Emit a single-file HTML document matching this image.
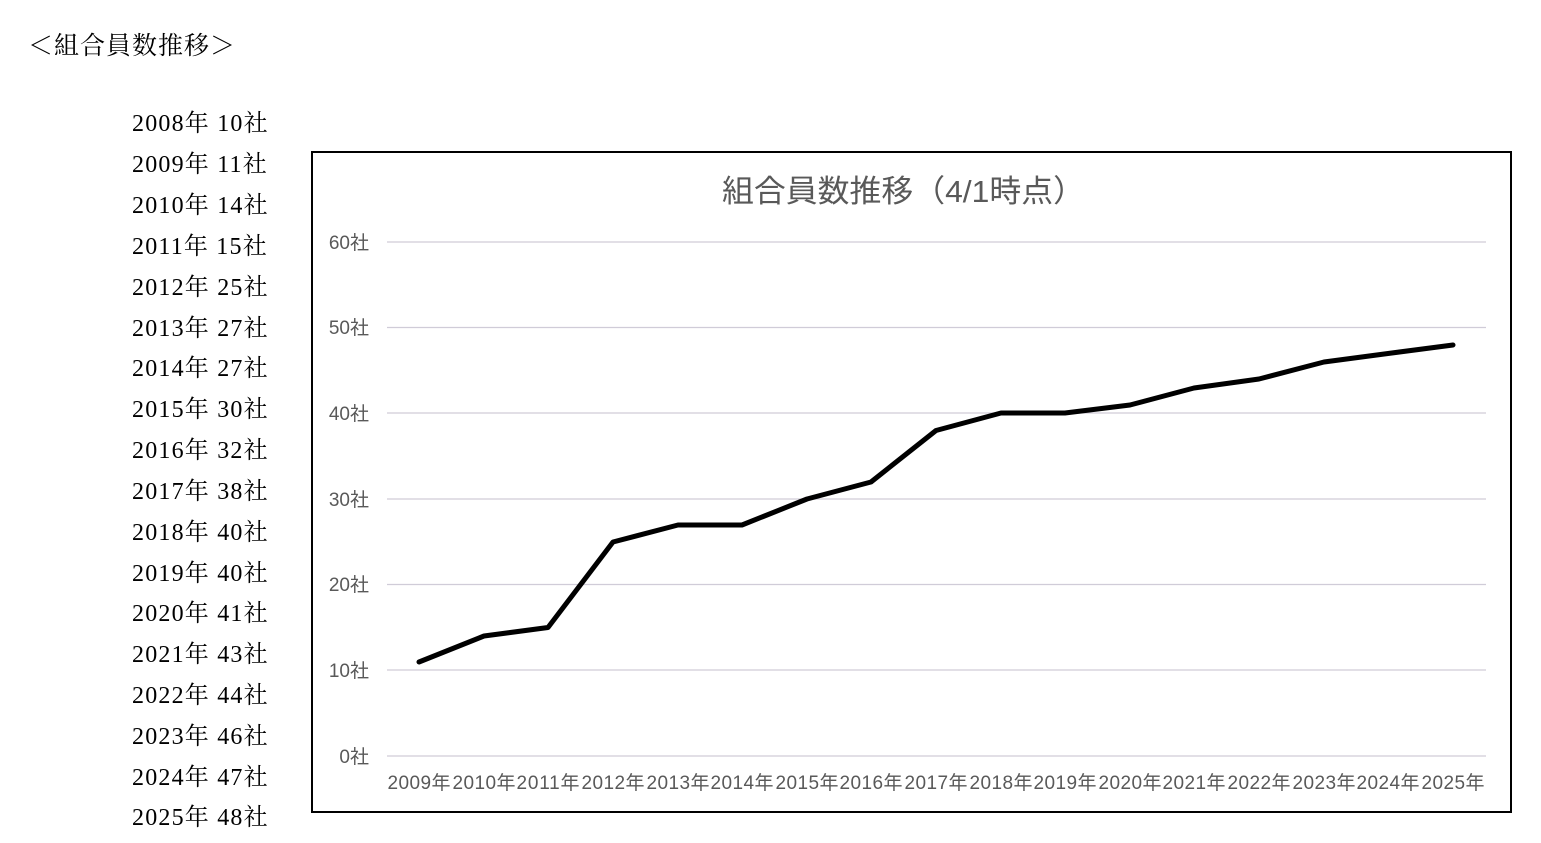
<!DOCTYPE html>
<html><head><meta charset="utf-8"><style>
body{margin:0;width:1541px;height:843px;background:#fff;overflow:hidden;position:relative;font-family:"Liberation Serif","Noto Serif CJK SC",serif}
.t{position:absolute;left:28px;top:26px;font-size:25px;color:#000;letter-spacing:1px}
.l{position:absolute;left:132px;font-size:24px;color:#000;white-space:nowrap;line-height:1;letter-spacing:1.2px}
</style></head><body>
<div class="t">＜組合員数推移＞</div>
<div class="l" style="top:112px">2008年 10社</div>
<div class="l" style="top:153px">2009年 11社</div>
<div class="l" style="top:194px">2010年 14社</div>
<div class="l" style="top:235px">2011年 15社</div>
<div class="l" style="top:276px">2012年 25社</div>
<div class="l" style="top:317px">2013年 27社</div>
<div class="l" style="top:357px">2014年 27社</div>
<div class="l" style="top:398px">2015年 30社</div>
<div class="l" style="top:439px">2016年 32社</div>
<div class="l" style="top:480px">2017年 38社</div>
<div class="l" style="top:521px">2018年 40社</div>
<div class="l" style="top:562px">2019年 40社</div>
<div class="l" style="top:602px">2020年 41社</div>
<div class="l" style="top:643px">2021年 43社</div>
<div class="l" style="top:684px">2022年 44社</div>
<div class="l" style="top:725px">2023年 46社</div>
<div class="l" style="top:766px">2024年 47社</div>
<div class="l" style="top:806px">2025年 48社</div>
<svg style="position:absolute;left:0;top:0" width="1541" height="843" font-family="'Liberation Sans','Noto Sans CJK JP',sans-serif">
<rect x="312" y="152" width="1199" height="660" fill="#fff" stroke="#000" stroke-width="2"/>
<text x="722" y="202" font-size="31" fill="#595959" textLength="363" lengthAdjust="spacingAndGlyphs">組合員数推移（4/1時点）</text>
<g stroke="#d0ccd8" stroke-width="1.3">
<line x1="387" x2="1486" y1="242" y2="242"/><line x1="387" x2="1486" y1="327.5" y2="327.5"/>
<line x1="387" x2="1486" y1="413" y2="413"/><line x1="387" x2="1486" y1="499" y2="499"/>
<line x1="387" x2="1486" y1="584.5" y2="584.5"/><line x1="387" x2="1486" y1="670" y2="670"/>
<line x1="387" x2="1486" y1="756" y2="756"/></g>
<g font-size="19" fill="#595959" text-anchor="end">
<text x="369" y="249">60社</text><text x="369" y="334">50社</text><text x="369" y="420">40社</text>
<text x="369" y="506">30社</text><text x="369" y="591">20社</text><text x="369" y="677">10社</text><text x="369" y="763">0社</text></g>
<g font-size="19" fill="#595959" text-anchor="middle" lengthAdjust="spacingAndGlyphs">
<text x="419" y="789" textLength="63">2009年</text><text x="484" y="789" textLength="63">2010年</text><text x="548" y="789" textLength="63">2011年</text><text x="613" y="789" textLength="63">2012年</text><text x="678" y="789" textLength="63">2013年</text><text x="742" y="789" textLength="63">2014年</text><text x="807" y="789" textLength="63">2015年</text><text x="871" y="789" textLength="63">2016年</text><text x="936" y="789" textLength="63">2017年</text><text x="1001" y="789" textLength="63">2018年</text><text x="1065" y="789" textLength="63">2019年</text><text x="1130" y="789" textLength="63">2020年</text><text x="1194" y="789" textLength="63">2021年</text><text x="1259" y="789" textLength="63">2022年</text><text x="1324" y="789" textLength="63">2023年</text><text x="1388" y="789" textLength="63">2024年</text><text x="1453" y="789" textLength="63">2025年</text></g>
<polyline fill="none" stroke="#000" stroke-width="5" stroke-linejoin="round" stroke-linecap="round" points="419,662 484,636 548,627.5 613,542 678,525 742,525 807,499 871,482 936,430.5 1001,413 1065,413 1130,405 1194,388 1259,379 1324,362 1388,353.5 1453,345"/>
</svg>
</body></html>
